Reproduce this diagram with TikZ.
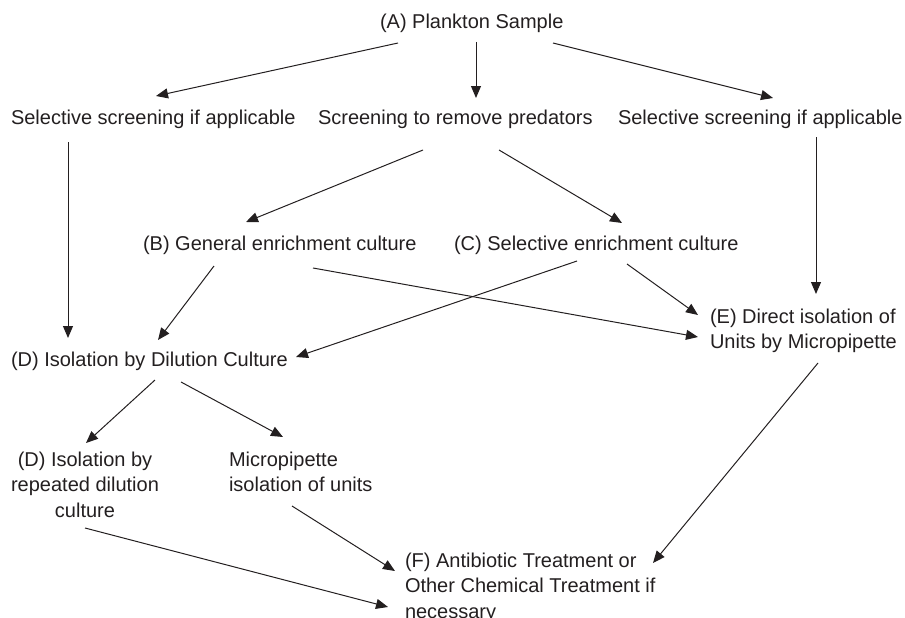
\documentclass[tikz,border=0pt]{standalone}
\usepackage{fontspec}
\setmainfont{Liberation Sans}
\usetikzlibrary{arrows.meta,calc}
\definecolor{ink}{RGB}{35,31,32}
\begin{document}
\begin{tikzpicture}[x=1pt,y=-1pt,
  lbl/.style={inner sep=0pt,outer sep=0pt,anchor=base west,text=ink,font=\fontsize{20}{25.5}\selectfont},
  lblc/.style={lbl,anchor=base},
  arr/.style={draw=ink,line width=1pt,-{Triangle[length=12pt,width=10pt]}}]
\useasboundingbox (0,0) rectangle (905,618);
\node[lbl] (a) at (380,29) {(A) Plankton Sample};
\node[lbl] (s1) at (11,124) {Selective screening if applicable};
\node[lbl] (s2) at (318,124) {Screening to remove predators};
\node[lbl] (s3) at (618,124) {Selective screening if applicable};
\node[lbl] (b) at (143,250) {(B) General enrichment culture};
\node[lbl] (c) at (454,250) {(C) Selective enrichment culture};
\node[lbl] (d) at (11,366) {(D) Isolation by Dilution Culture};
\node[lbl] (e) at (710,323) {\begin{tabular}[t]{@{}l@{}}(E) Direct isolation of\\Units by Micropipette\end{tabular}};
\node[lblc] (d2) at (85,466) {\begin{tabular}[t]{@{}c@{}}(D) Isolation by\\repeated dilution\\culture\end{tabular}};
\node[lbl] (m) at (229,466) {\begin{tabular}[t]{@{}l@{}}Micropipette\\isolation of units\end{tabular}};
\node[lbl] (f) at (405,567) {\begin{tabular}[t]{@{}l@{}}(F) Antibiotic Treatment or\\Other Chemical Treatment if\\necessary\end{tabular}};
% connectors
\draw[arr] ($(a.base west)+(18,14)$) -- ($(s1.base west)+(145,-28)$);
\draw[arr] ($(a.base west)+(96,13)$) -- ($(s2.base west)+(158,-26)$);
\draw[arr] ($(a.base west)+(173,14)$) -- ($(s3.base west)+(155,-26)$);
\draw[arr] ($(s1.base west)+(57,18)$) -- ($(d.base west)+(57,-28)$);
\draw[arr] ($(s2.base west)+(105,26)$) -- ($(b.base west)+(103,-28)$);
\draw[arr] ($(s2.base west)+(181,26)$) -- ($(c.base west)+(168,-27)$);
\draw[arr] ($(s3.base west)+(198,13)$) -- ($(e.base west)+(106,-29)$);
\draw[arr] ($(b.base west)+(71,16)$) -- ($(d.base west)+(147,-26)$);
\draw[arr] ($(b.base west)+(170,18)$) -- ($(e.base west)+(-12,14)$);
\draw[arr] ($(c.base west)+(123,11)$) -- ($(d.base west)+(285,-9)$);
\draw[arr] ($(c.base west)+(173,14)$) -- ($(e.base west)+(-12,-8)$);
\draw[arr] ($(d.base west)+(144,14)$) -- ($(d2.base)+(1,-23)$);
\draw[arr] ($(d.base west)+(170,16)$) -- ($(m.base west)+(54,-29)$);
\draw[arr] ($(e.base west)+(108,40)$) -- ($(f.base west)+(248,-4)$);
\draw[arr] ($(m.base west)+(63,40)$) -- ($(f.base west)+(-10,4)$);
\draw[arr] ($(d2.base)+(0,62)$) -- ($(f.base west)+(-17,40)$);
\end{tikzpicture}
\end{document}
